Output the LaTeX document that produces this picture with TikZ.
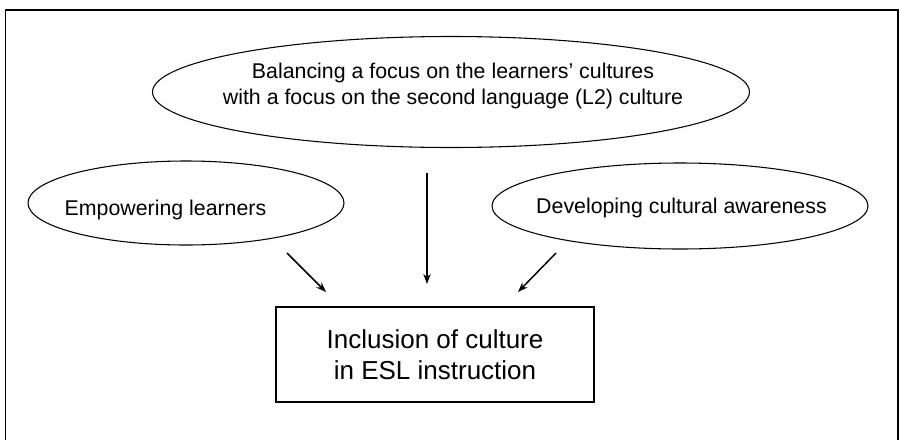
\documentclass[tikz,border=0pt]{standalone}
\usepackage{fontspec}
\setmainfont{Liberation Sans}
\usetikzlibrary{shapes.geometric,arrows.meta}

\tikzset{every picture/.style={line width=0.75pt}}
\tikzset{
  oval/.style={draw, ellipse, inner sep=0pt, line width=0.8pt},
  caption/.style={inner sep=0.75pt, font=\fontsize{16}{19.5}\selectfont, align=center},
  flow/.style={-{Stealth[length=7.5pt,width=5.5pt]}, line width=1.1pt},
}

\begin{document}
\begin{tikzpicture}[x=0.75pt,y=0.75pt,yscale=-1,xscale=1]
\useasboundingbox (0,0) rectangle (900,440);

%Frame (open at the bottom)
\draw [line width=1pt] (5.5,440) -- (5.5,10) -- (898,10) -- (898,440) ;

%Shape: Ellipse
\node [oval, minimum width=447.75pt, minimum height=83.25pt] (balance) at (451,92) {};
%Shape: Ellipse
\node [oval, minimum width=237pt, minimum height=63pt] (empower) at (186,203) {};
%Shape: Ellipse
\node [oval, minimum width=282pt, minimum height=64.5pt] (aware) at (680,206) {};

% Text Node
\node [caption] (balancetext) at (453,86) {Balancing a focus on the learners' cultures\\with a focus on the second language (L2) culture};
% Text Node
\node [caption, anchor=base] (empowertext) at (165.5,215) {Empowering learners};
% Text Node
\node [caption, anchor=base] (awaretext) at (681.5,213) {Developing cultural awareness};

%Shape: Rectangle
\node [draw, line width=1pt, minimum width=238.5pt, minimum height=71.25pt, inner sep=0.75pt, align=center, font=\fontsize{19.5}{23.25}\selectfont] (inclusion) at (435,354.5) {Inclusion of culture\\in ESL instruction};

% arrow ends
\coordinate (l1) at (287,253) ;
\coordinate (l2) at (326,292) ;
\coordinate (m1) at (427,173) ;
\coordinate (m2) at (427,284) ;
\coordinate (r1) at (556,253) ;
\coordinate (r2) at (518,292) ;

%Straight Lines
\draw [flow] (l1) -- (l2) ;
%Straight Lines
\draw [flow] (m1) -- (m2) ;
%Straight Lines
\draw [flow] (r1) -- (r2) ;

\end{tikzpicture}
\end{document}
